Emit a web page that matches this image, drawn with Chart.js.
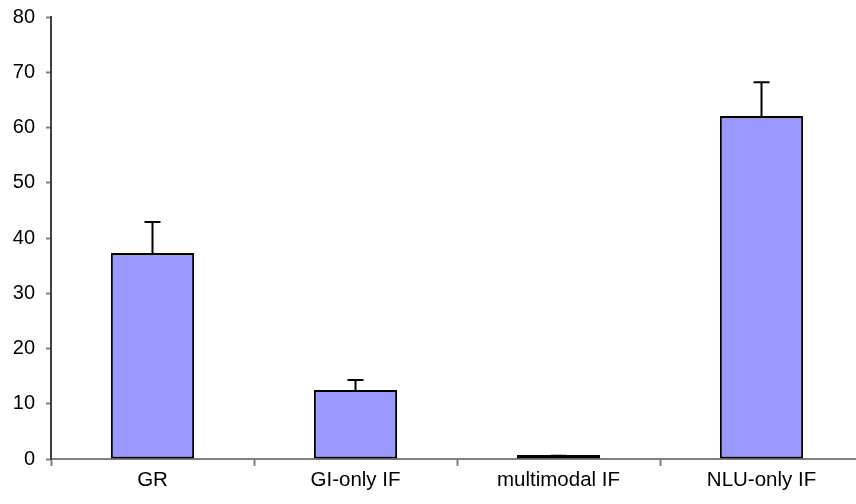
<!DOCTYPE html>
<html>
<head>
<meta charset="utf-8">
<script src="https://cdn.jsdelivr.net/npm/chart.js@4"></script>
<style>
    body { margin: 0; background: #fff; overflow: hidden; }
    #caixa { width: 863px; height: 504px; }
</style>
</head>
<body>
<div id="caixa"><canvas id="grafico"></canvas></div>
<script>
// dados
const categorias = ['GR', 'GI-only IF', 'multimodal IF', 'NLU-only IF'];
const valores = [37.3, 12.5, 0.25, 62.1];
const erros = [5.6, 1.8, 0.35, 6.1];

// barras de erro (só para cima)
const barrasDeErro = {
    id: 'barrasDeErro',
    afterDatasetsDraw(chart) {
        const ctx = chart.ctx;
        const y = chart.scales.y;
        const meta = chart.getDatasetMeta(0);
        ctx.save();
        ctx.strokeStyle = '#000';
        ctx.lineWidth = 2;
        meta.data.forEach((barra, i) => {
            const topo = y.getPixelForValue(valores[i] + erros[i]);
            const base = Math.min(y.getPixelForValue(valores[i]), barra.y);
            ctx.beginPath();
            ctx.moveTo(barra.x, base);
            ctx.lineTo(barra.x, topo);
            ctx.moveTo(barra.x - 8, topo);
            ctx.lineTo(barra.x + 8, topo);
            ctx.stroke();
        });
        ctx.restore();
    }
};

new Chart(document.getElementById('grafico').getContext('2d'), {
    type: 'bar',
    data: {
        labels: categorias,
        datasets: [{
            data: valores,
            backgroundColor: '#9999FF',
            borderColor: '#000',
            borderWidth: 2,
            borderSkipped: false,
            minBarLength: 4,
            categoryPercentage: 0.41,
            barPercentage: 1
        }]
    },
    options: {
        responsive: true,
        maintainAspectRatio: false,
        animation: false,
        layout: { padding: { top: 17, right: 0, left: 0, bottom: 0 } },
        plugins: {
            legend: { display: false },
            tooltip: { enabled: false }
        },
        scales: {
            x: {
                afterFit: (scale) => { scale.height = 45; },
                grid: {
                    drawOnChartArea: false,
                    tickLength: 7,
                    tickColor: '#808080',
                    tickWidth: 2
                },
                border: { color: '#808080', width: 2 },
                ticks: {
                    color: '#000',
                    padding: 2,
                    font: { family: 'Liberation Sans, Arial', size: 20.5 }
                }
            },
            y: {
                min: 0,
                max: 80,
                afterFit: (scale) => {
                    scale.width = 51;
                    scale.paddingTop = 0;
                    scale.paddingBottom = 0;
                },
                grid: {
                    drawOnChartArea: false,
                    tickLength: 5,
                    tickColor: '#808080',
                    tickWidth: 2
                },
                border: { color: '#404040', width: 2 },
                ticks: {
                    stepSize: 10,
                    color: '#000',
                    padding: 11,
                    font: { family: 'Liberation Sans, Arial', size: 20 }
                }
            }
        }
    },
    plugins: [barrasDeErro]
});
</script>
</body>
</html>
